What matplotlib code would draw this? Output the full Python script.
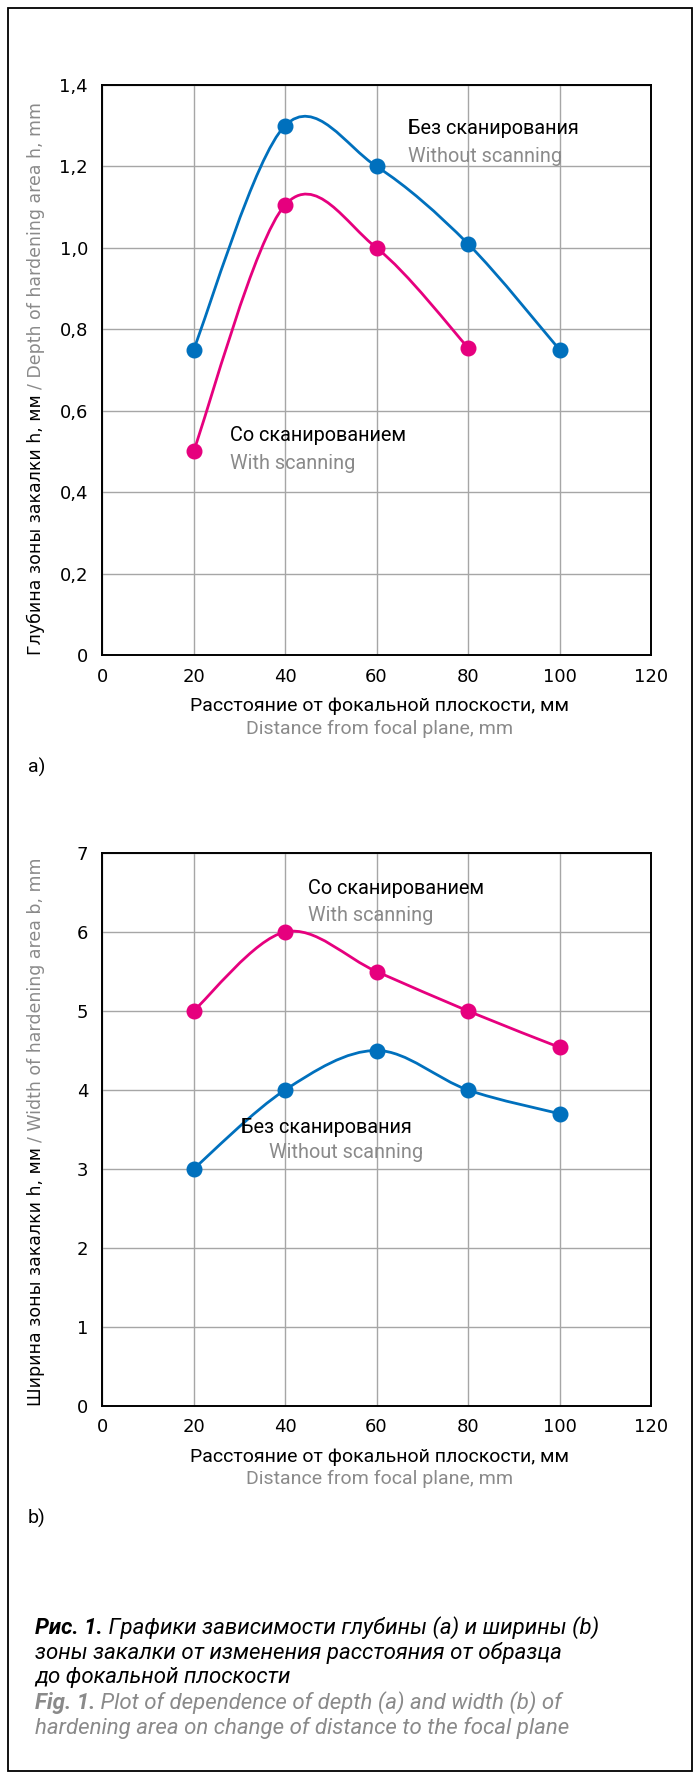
import numpy as np
import matplotlib
matplotlib.use('Agg')
import matplotlib.pyplot as plt
from matplotlib.path import Path
from matplotlib.patches import PathPatch, Rectangle
from matplotlib.text import Annotation

plt.rcParams['font.family'] = ['Roboto', 'DejaVu Sans']

# data
distance = [20, 40, 60, 80, 100]
depth_no_scan = [0.75, 1.30, 1.20, 1.01, 0.75]
depth_scan = [0.50, 1.105, 1.00, 0.755]
width_no_scan = [3.0, 4.0, 4.5, 4.0, 3.7]
width_scan = [5.0, 6.0, 5.5, 5.0, 4.54]

x_ticks = [0, 20, 40, 60, 80, 100, 120]
depth_ticks = [0, 0.2, 0.4, 0.6, 0.8, 1.0, 1.2, 1.4]
depth_labels = ['0', '0,2', '0,4', '0,6', '0,8', '1,0', '1,2', '1,4']
width_ticks = [0, 1, 2, 3, 4, 5, 6, 7]

blue = '#0070bd'
pink = '#e6007e'
grey = '#8a8a8a'
dv = ['DejaVu Sans']

W, H = 700, 1775
fig = plt.figure(figsize=(7, 17.75), dpi=100)


def px(x, y):
    return x / W, 1 - y / H


def smooth(ax, xs, ys, color):
    # excel-like smoothed line, bezier control points from neighbours
    pts = list(zip(xs, ys))
    verts = [pts[0]]
    codes = [Path.MOVETO]
    for i in range(len(pts) - 1):
        p0 = pts[i - 1] if i > 0 else pts[i]
        p1 = pts[i]
        p2 = pts[i + 1]
        p3 = pts[i + 2] if i + 2 < len(pts) else pts[i + 1]
        c1 = (p1[0] + (p2[0] - p0[0]) / 6, p1[1] + (p2[1] - p0[1]) / 6)
        c2 = (p2[0] - (p3[0] - p1[0]) / 6, p2[1] - (p3[1] - p1[1]) / 6)
        verts += [c1, c2, p2]
        codes += [Path.CURVE4] * 3
    ax.add_patch(PathPatch(Path(verts, codes), fill=False, edgecolor=color, lw=2.0, zorder=3))
    ax.plot(xs, ys, 'o', color=color, ms=10.5, zorder=4, clip_on=False)


def make_axes(top, bottom):
    ax = fig.add_axes([102 / W, 1 - bottom / H, (651 - 102) / W, (bottom - top) / H])
    ax.set_xlim(0, 120)
    ax.set_xticks(x_ticks)
    ax.grid(True, color='#a6a6a6', lw=1.0)
    ax.set_axisbelow(True)
    for s in ax.spines.values():
        s.set_linewidth(1.4)
    ax.tick_params(length=0, labelsize=13, pad=9, colors='black')
    ax.tick_params(axis='y', pad=10)
    for lab in ax.get_xticklabels() + ax.get_yticklabels():
        lab.set_family(dv)
    return ax


def ylabel2(y_bottom, black, gray):
    t1 = fig.text(*px(36, y_bottom), black, rotation=90, ha='center', va='bottom', fontsize=12.5, family=dv)
    fig.add_artist(Annotation(gray, xy=(0.5, 1), xycoords=t1, rotation=90, ha='center', va='bottom',
                              fontsize=12.5, color=grey, family=dv))


def note(ax, x, y, s, color='black'):
    ax.text(x, y, s, fontsize=14.3, va='center', color=color)


# (a) depth
ax1 = make_axes(85, 655)
ax1.set_ylim(0, 1.4)
ax1.set_yticks(depth_ticks)
ax1.set_yticklabels(depth_labels, family=dv)
smooth(ax1, distance, depth_no_scan, blue)
smooth(ax1, distance[:4], depth_scan, pink)
note(ax1, 66.8, 1.292, 'Без сканирования')
note(ax1, 66.8, 1.225, 'Without scanning', grey)
note(ax1, 28, 0.54, 'Со сканированием')
note(ax1, 28, 0.47, 'With scanning', grey)

# (b) width
ax2 = make_axes(853, 1406)
ax2.set_ylim(0, 7)
ax2.set_yticks(width_ticks)
smooth(ax2, distance, width_no_scan, blue)
smooth(ax2, distance, width_scan, pink)
note(ax2, 45, 6.55, 'Со сканированием')
note(ax2, 45, 6.21, 'With scanning', grey)
note(ax2, 30.3, 3.53, 'Без сканирования')
note(ax2, 36.5, 3.21, 'Without scanning', grey)

# axis titles
for yr, ye, tag, ty in [(706, 729, 'a)', 767), (1457, 1479, 'b)', 1518)]:
    fig.text(*px(380, yr), 'Расстояние от фокальной плоскости, мм', ha='center', va='center', fontsize=14)
    fig.text(*px(380, ye), 'Distance from focal plane, mm', ha='center', va='center', fontsize=14, color=grey)
    fig.text(*px(28, ty), tag, ha='left', va='center', fontsize=14)

ylabel2(655, 'Глубина зоны закалки h, мм ', '/ Depth of hardening area h, mm')
ylabel2(1406, 'Ширина зоны закалки h, мм ', '/ Width of hardening area b, mm')

# caption
fs = 16
t = fig.text(*px(35, 1628), 'Рис. 1.', ha='left', va='center', fontsize=fs, style='italic', weight='bold')
fig.add_artist(Annotation(' Графики зависимости глубины (a) и ширины (b)', xy=(1, 0), xycoords=t,
                          ha='left', va='bottom', fontsize=fs, style='italic'))
fig.text(*px(35, 1653), 'зоны закалки от изменения расстояния от образца', ha='left', va='center',
         fontsize=fs, style='italic')
fig.text(*px(35, 1678), 'до фокальной плоскости', ha='left', va='center', fontsize=fs, style='italic')
t = fig.text(*px(35, 1703), 'Fig. 1.', ha='left', va='center', fontsize=fs, style='italic', weight='bold', color=grey)
fig.add_artist(Annotation(' Plot of dependence of depth (a) and width (b) of', xy=(1, 0), xycoords=t,
                          ha='left', va='bottom', fontsize=fs, style='italic', color=grey))
fig.text(*px(35, 1728), 'hardening area on change of distance to the focal plane', ha='left', va='center',
         fontsize=fs, style='italic', color=grey)

# outer frame
fig.add_artist(Rectangle(px(8, 1771), 684 / W, 1763 / H, transform=fig.transFigure, fill=False,
                         edgecolor='black', lw=1.3))

fig.savefig('out.png', dpi=100)
